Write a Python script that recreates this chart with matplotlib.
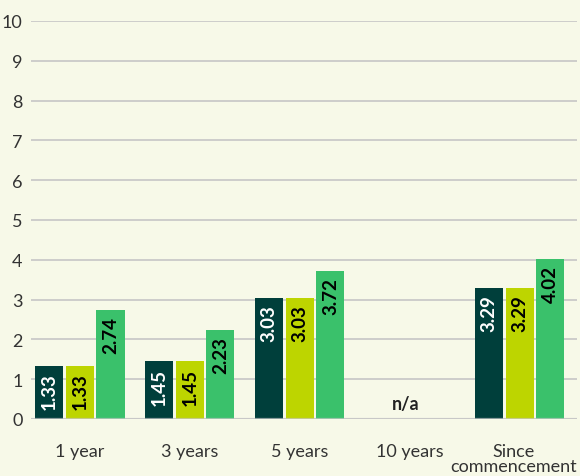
import matplotlib.pyplot as plt
import matplotlib.transforms as mtransforms
import numpy as np

categories = ["1 year", "3 years", "5 years", "10 years", "Since\ncommencement"]
series_a = [1.33, 1.45, 3.03, np.nan, 3.29]
series_b = [1.33, 1.45, 3.03, np.nan, 3.29]
series_c = [2.74, 2.23, 3.72, np.nan, 4.02]
yticks = list(range(0, 11))

BG = "#F7F9E8"
colors = ["#003F3B", "#BDD500", "#3AC16B"]
text_colors = ["white", "black", "black"]

plt.rcParams["font.family"] = ["Lato", "DejaVu Sans"]

fig = plt.figure(figsize=(5.8, 4.77), dpi=100, facecolor=BG)
ax = fig.add_axes([31 / 580, 1 - 420 / 477, 546 / 580, 398 / 477], facecolor=BG)

x = np.arange(len(categories))
w = 0.255
offs = [-0.278, 0.0, 0.278]
for vals, off, c, tc in zip([series_a, series_b, series_c], offs, colors, text_colors):
    ax.bar(x + off, vals, width=w, color=c, zorder=2)
    for xi, v in zip(x, vals):
        if np.isnan(v):
            continue
        ax.annotate(f"{v:.2f}", (xi + off, v), xytext=(0, -4.5), textcoords="offset points",
                    rotation=90, ha="center", va="top", color=tc, fontsize=13.5,
                    fontweight="bold", zorder=3)

# no data for 10 years
ax.text(x[3] - 0.04, 0.4, "n/a", ha="center", va="center", fontsize=13, fontweight="bold",
        color="#222222")

ax.set_ylim(0, 10)
ax.set_xlim(-0.445, 4.52)
ax.set_yticks(yticks)
ax.set_xticks(x)
ax.set_xticklabels(categories, linespacing=0.95)
ax.yaxis.grid(True, color="#C6C6C6", linewidth=1.2, zorder=0)
ax.axhline(0, color="#C6C6C6", linewidth=1.6, alpha=0.7, zorder=4)
ax.set_axisbelow(True)
for s in ax.spines.values():
    s.set_visible(False)
ax.tick_params(axis="both", length=0, labelsize=13, colors="#333333")
ax.tick_params(axis="x", pad=17)
ax.tick_params(axis="y", pad=6)

# keep the long last label inside the canvas
last = ax.get_xticklabels()[-1]
last.set_transform(last.get_transform() + mtransforms.ScaledTranslation(-6 / 100, 0, fig.dpi_scale_trans))

fig.savefig("out.png", dpi=100, facecolor=BG)
